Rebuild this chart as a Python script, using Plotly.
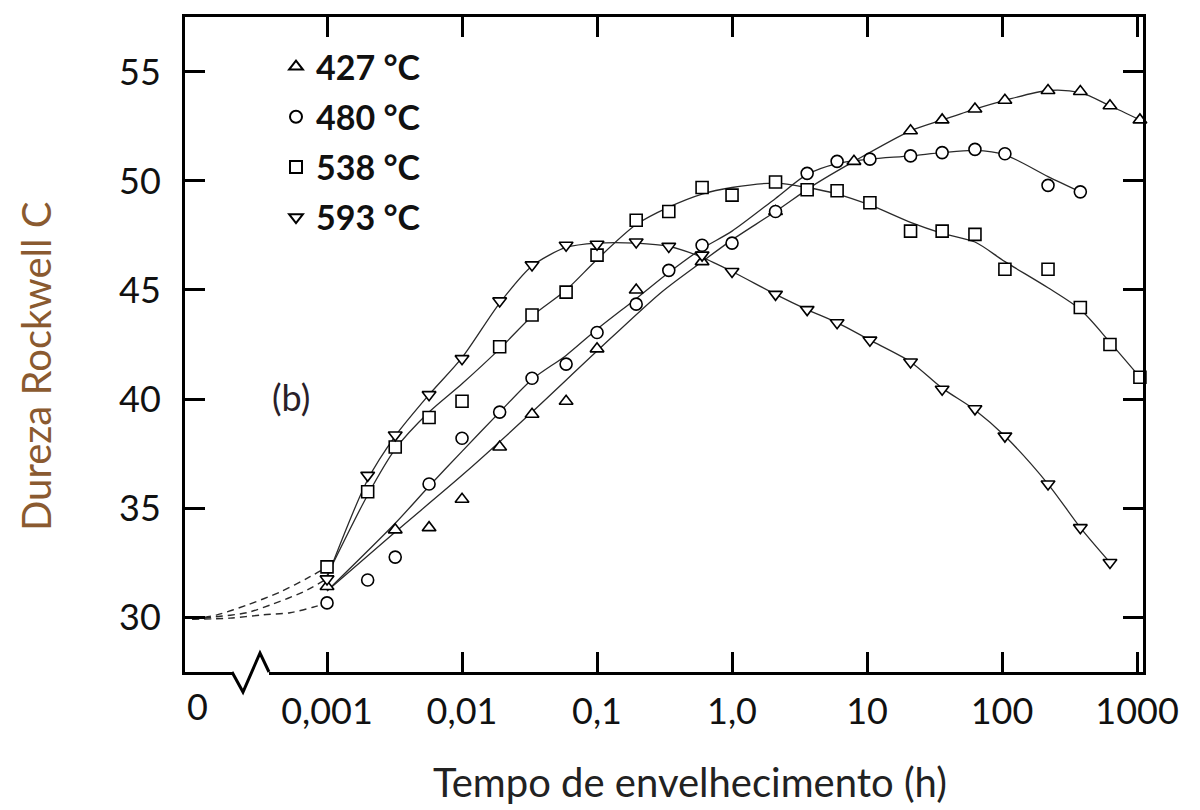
import plotly.graph_objects as go

# ---------------- data (hours, Rockwell C) ----------------
SERIES = ["427 °C", "480 °C", "538 °C", "593 °C"]

T427 = [0.001, 0.0032, 0.0057, 0.01, 0.019, 0.033, 0.059, 0.1, 0.195, 0.6, 2.1, 8.0,
        21, 36, 63, 105, 219, 380, 630, 1050]
H427 = [31.4, 34.0, 34.1, 35.4, 37.8, 39.3, 39.9, 42.3, 45.0, 46.3, 48.6, 50.9,
        52.3, 52.8, 53.3, 53.7, 54.15, 54.1, 53.45, 52.8]

T480 = [0.001, 0.002, 0.0032, 0.0057, 0.01, 0.019, 0.033, 0.059, 0.1, 0.195, 0.34, 0.6,
        1.0, 2.1, 3.6, 6.0, 10.5, 21, 36, 63, 105, 219, 380]
H480 = [30.65, 31.7, 32.75, 36.1, 38.2, 39.4, 40.95, 41.6, 43.05, 44.35, 45.9, 47.05,
        47.15, 48.6, 50.35, 50.9, 51.0, 51.15, 51.3, 51.45, 51.25, 49.8, 49.5]

T538 = [0.001, 0.002, 0.0032, 0.0057, 0.01, 0.019, 0.033, 0.059, 0.1, 0.195, 0.34, 0.6,
        1.0, 2.1, 3.6, 6.0, 10.5, 21, 36, 63, 105, 219, 380, 630, 1050]
H538 = [32.3, 35.75, 37.8, 39.15, 39.9, 42.4, 43.85, 44.9, 46.6, 48.2, 48.6, 49.7,
        49.35, 49.95, 49.6, 49.55, 49.0, 47.7, 47.7, 47.55, 45.95, 45.95, 44.2, 42.5, 41.0]

T593 = [0.001, 0.002, 0.0032, 0.0057, 0.01, 0.019, 0.033, 0.059, 0.1, 0.195, 0.34, 0.6,
        1.0, 2.1, 3.6, 6.0, 10.5, 21, 36, 63, 105, 219, 380, 630]
H593 = [31.75, 36.5, 38.35, 40.2, 41.85, 44.5, 46.15, 47.05, 47.1, 47.2, 47.0, 46.6,
        45.85, 44.8, 44.1, 43.5, 42.7, 41.7, 40.45, 39.55, 38.3, 36.1, 34.1, 32.5]

# smoothed curves drawn through the data
C427_T = [0.001, 0.0032, 0.01, 0.033, 0.1, 0.3, 0.6, 1.0, 2.1, 4.0, 8.0, 21, 36, 63,
          105, 219, 380, 630, 1050]
C427_H = [31.2, 33.9, 36.5, 39.4, 42.2, 44.9, 46.3, 47.3, 48.6, 49.8, 50.9, 52.3, 52.8,
          53.3, 53.7, 54.15, 54.05, 53.45, 52.8]
C480_T = [0.001, 0.0032, 0.0057, 0.01, 0.019, 0.033, 0.059, 0.1, 0.195, 0.34, 0.6, 1.0,
          2.1, 3.6, 6.0, 10.5, 21, 36, 63, 105, 219, 380]
C480_H = [31.2, 34.3, 36.0, 37.6, 39.4, 40.9, 42.0, 43.2, 44.6, 45.8, 46.9, 47.7,
          49.2, 50.3, 50.8, 51.0, 51.15, 51.3, 51.4, 51.2, 50.2, 49.5]
C538_T = [0.001, 0.002, 0.0032, 0.0057, 0.01, 0.019, 0.033, 0.059, 0.1, 0.195, 0.34, 0.6,
          1.0, 2.1, 3.6, 6.0, 10.5, 21, 36, 63, 105, 219, 380, 630, 1050]
C538_H = [31.9, 35.6, 37.7, 39.4, 40.7, 42.3, 43.8, 45.0, 46.4, 48.0, 48.8, 49.4,
          49.7, 49.9, 49.7, 49.4, 48.9, 48.1, 47.6, 47.2, 46.3, 45.1, 44.1, 42.6, 41.0]
C593_T = [0.001, 0.002, 0.0032, 0.0057, 0.01, 0.019, 0.033, 0.059, 0.1, 0.195, 0.34, 0.6,
          1.0, 2.1, 3.6, 6.0, 10.5, 21, 36, 63, 105, 219, 380, 630]
C593_H = [31.8, 36.3, 38.3, 40.2, 41.9, 44.4, 46.1, 46.95, 47.15, 47.15, 47.0, 46.5,
          45.85, 44.8, 44.1, 43.5, 42.7, 41.7, 40.5, 39.5, 38.3, 36.1, 34.1, 32.5]

# dashed extrapolations towards t = 0 (plotted at the "0" position of the broken axis)
D538_T = [1.0e-4, 1.53e-4, 2.55e-4, 4.49e-4, 7.48e-4, 0.001]
D538_H = [29.9, 30.1, 30.55, 31.15, 31.85, 32.3]
D593_T = [1.0e-4, 1.43e-4, 2.55e-4, 3.98e-4, 6.64e-4, 0.001]
D593_H = [29.9, 30.0, 30.2, 30.6, 31.15, 31.75]
D480_T = [1.0e-4, 1.91e-4, 3.36e-4, 5.32e-4, 7.87e-4, 0.001]
D480_H = [29.9, 29.95, 30.1, 30.2, 30.45, 30.65]

X_TICKS = [0.001, 0.01, 0.1, 1, 10, 100, 1000]
X_TICKTEXT = ["0,001", "0,01", "0,1", "1,0", "10", "100", "1000"]
Y_TICKS = [30, 35, 40, 45, 50, 55]

FONT = "Lato"
LINE_C = "#2a2a2a"

fig = go.Figure()

for t, h in [(C427_T, C427_H), (C480_T, C480_H), (C538_T, C538_H), (C593_T, C593_H)]:
    fig.add_trace(go.Scatter(x=t, y=h, mode="lines", showlegend=False, hoverinfo="skip",
                             line=dict(color=LINE_C, width=1.3, shape="spline", smoothing=0.8),
                             cliponaxis=False))
for t, h in [(D538_T, D538_H), (D593_T, D593_H), (D480_T, D480_H)]:
    fig.add_trace(go.Scatter(x=t, y=h, mode="lines", showlegend=False, hoverinfo="skip",
                             line=dict(color=LINE_C, width=1.4, dash="7px,5px",
                                       shape="spline", smoothing=0.8)))

symbols = ["triangle-up", "circle", "square", "triangle-down"]
data = [(T427, H427), (T480, H480), (T538, H538), (T593, H593)]
for name, sym, (t, h) in zip(SERIES, symbols, data):
    fig.add_trace(go.Scatter(x=t, y=h, mode="markers", name=name, cliponaxis=False,
                             legendgroup=name,
                             marker=dict(symbol=sym, size=12, color="white",
                                         line=dict(color="black", width=1.6))))

axis_common = dict(showline=True, linewidth=3, linecolor="black", mirror="ticks",
                   ticks="inside", ticklen=20, tickwidth=3, tickcolor="black",
                   showgrid=False, zeroline=False,
                   tickfont=dict(family=FONT, size=36, color="#111"))

fig.update_xaxes(type="log", range=[-4.052, 3.044], tickvals=X_TICKS,
                 ticktext=X_TICKTEXT, ticklabelstandoff=6, **axis_common)
fig.update_yaxes(range=[27.48, 57.52], tickvals=Y_TICKS, ticklabelstandoff=14,
                 **axis_common)

W, H = 1200, 810
L, R, T, B = 185, 57, 17, 138
pw, ph = W - L - R, H - T - B


def px(x):
    return (x - L) / pw


def py(y):
    return (H - B - y) / ph


# broken-axis symbol on the x axis
shapes = [
    dict(type="line", xref="paper", yref="paper", x0=px(232), x1=px(269), y0=0, y1=0,
         line=dict(color="white", width=6), layer="above"),
    dict(type="path", xref="paper", yref="paper",
         path=f"M {px(232)},0 L {px(243)},{py(692)} L {px(260)},{py(653)} L {px(269)},0",
         line=dict(color="black", width=3), layer="above"),
]

annotations = [
    dict(text="0", xref="paper", yref="paper", x=px(197), y=py(706), showarrow=False,
         font=dict(family=FONT, size=36, color="#111"), xanchor="center", yanchor="middle"),
    dict(text="Tempo de envelhecimento (h)", xref="paper", yref="paper", x=px(690),
         y=py(782), showarrow=False, font=dict(family=FONT, size=40, color="#222"),
         xanchor="center", yanchor="middle"),
    dict(text="Dureza Rockwell C", xref="paper", yref="paper", x=px(36), y=py(367),
         showarrow=False, textangle=-90, font=dict(family=FONT, size=40, color="#8a5a30"),
         xanchor="center", yanchor="middle"),
    dict(text="(b)", xref="paper", yref="paper", x=px(291), y=py(397), showarrow=False,
         font=dict(family=FONT, size=36, color="#2a1f2a"), xanchor="center",
         yanchor="middle"),
]

fig.update_layout(
    width=W, height=H, margin=dict(l=L, r=R, t=T, b=B),
    paper_bgcolor="white", plot_bgcolor="white",
    shapes=shapes, annotations=annotations,
    showlegend=True,
    legend=dict(x=px(276), y=py(38), xanchor="left", yanchor="top",
                bgcolor="rgba(0,0,0,0)", tracegroupgap=3, traceorder="grouped",
                font=dict(family=FONT, size=34, color="#111", weight="bold"),
                itemsizing="constant"),
)

fig.write_html("out.html")
